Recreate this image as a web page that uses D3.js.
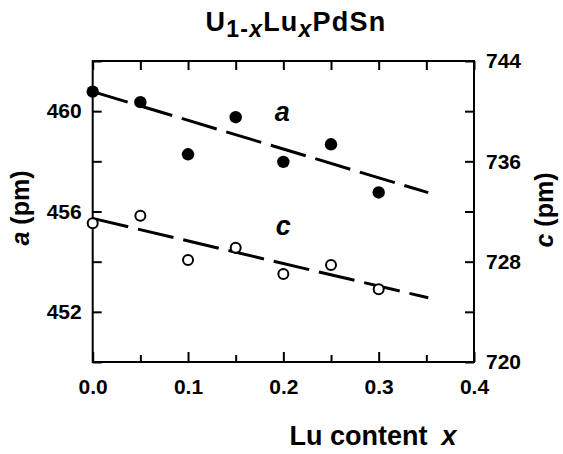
<!DOCTYPE html>
<html>
<head>
<meta charset="utf-8">
<script src="https://cdn.jsdelivr.net/npm/d3@7"></script>
<style>
  html, body { margin: 0; padding: 0; background: #fff; }
  svg { display: block; font-family: "Liberation Sans", Arial, Helvetica, sans-serif; font-weight: bold; }
</style>
</head>
<body>
<svg id="chart" width="563" height="454"></svg>
<script>
// ---- data ----
const xValues = [0.0, 0.05, 0.10, 0.15, 0.20, 0.25, 0.30];
const aValues = [460.78, 460.36, 458.28, 459.76, 457.98, 458.68, 456.76];
const cValues = [731.06, 731.67, 728.13, 729.11, 727.02, 727.74, 725.80];
const aFitX = [0.0, 0.352];
const aFitY = [460.78, 456.75];
const cFitX = [0.0, 0.352];
const cFitY = [731.45, 725.12];
const xTicks = [0, 0.05, 0.1, 0.15, 0.2, 0.25, 0.3, 0.35, 0.4];
const xTickLabels = [0, 0.1, 0.2, 0.3, 0.4];
const aTicks = [450, 452, 454, 456, 458, 460, 462];
const aTickLabels = [452, 456, 460];
const cTicks = [720, 724, 728, 732, 736, 740, 744];
const cTickLabels = [720, 728, 736, 744];

// ---- layout ----
const L = 92.7, R = 474, T = 61, B = 362;
const svg = d3.select("#chart");

const x = d3.scaleLinear().domain([0, 0.4]).range([L, R]);
const ya = d3.scaleLinear().domain([450, 462]).range([B, T]);
const yc = d3.scaleLinear().domain([720, 744]).range([B, T]);

const isLab = (arr) => (v) => arr.some(u => Math.abs(u - v) < 1e-9);

// frame
svg.append("rect").attr("x", L).attr("y", T).attr("width", R - L).attr("height", B - T)
  .attr("fill", "none").attr("stroke", "#000").attr("stroke-width", 2);

function styleAxis(g) {
  g.select(".domain").remove();
  g.selectAll(".tick line").attr("stroke", "#000").attr("stroke-width", 2);
  g.selectAll(".tick text").attr("fill", "#000").attr("font-size", 21).attr("font-weight", "bold")
    .attr("font-family", "'Liberation Sans', Arial, sans-serif");
}

// bottom axis
const xb = svg.append("g").attr("transform", `translate(0,${B})`)
  .call(d3.axisBottom(x).tickValues(xTicks).tickSize(-8).tickPadding(16.6)
    .tickFormat(v => isLab(xTickLabels)(v) ? d3.format(".1f")(v) : ""));
styleAxis(xb);
xb.selectAll(".tick line").attr("y2", d => isLab(xTickLabels)(d) ? -10 : -7);

// top axis
const xt = svg.append("g").attr("transform", `translate(0,${T})`)
  .call(d3.axisTop(x).tickValues(xTicks).tickSize(-9).tickFormat(""));
styleAxis(xt);

// left axis (a)
const yl = svg.append("g").attr("transform", `translate(${L},0)`)
  .call(d3.axisLeft(ya).tickValues(aTicks).tickSize(-9).tickPadding(11)
    .tickFormat(v => isLab(aTickLabels)(v) ? String(v) : ""));
styleAxis(yl);

// right axis (c)
const yr = svg.append("g").attr("transform", `translate(${R},0)`)
  .call(d3.axisRight(yc).tickValues(cTicks).tickSize(-9).tickPadding(12)
    .tickFormat(v => isLab(cTickLabels)(v) ? String(v) : ""));
styleAxis(yr);

// fit lines
const lineA = d3.line().x(d => x(d[0])).y(d => ya(d[1]));
const lineC = d3.line().x(d => x(d[0])).y(d => yc(d[1]));
svg.append("path").datum(d3.zip(aFitX, aFitY)).attr("d", lineA)
  .attr("fill", "none").attr("stroke", "#000").attr("stroke-width", 3).attr("stroke-dasharray", "36.5,10");
svg.append("path").datum(d3.zip(cFitX, cFitY)).attr("d", lineC)
  .attr("fill", "none").attr("stroke", "#000").attr("stroke-width", 3).attr("stroke-dasharray", "36.5,10");

// points
svg.append("g").selectAll("circle").data(d3.zip(xValues, aValues)).join("circle")
  .attr("cx", d => x(d[0])).attr("cy", d => ya(d[1])).attr("r", 6.2).attr("fill", "#000");
svg.append("g").selectAll("circle").data(d3.zip(xValues, cValues)).join("circle")
  .attr("cx", d => x(d[0])).attr("cy", d => yc(d[1])).attr("r", 5)
  .attr("fill", "#fff").attr("stroke", "#000").attr("stroke-width", 2);

// series labels
svg.append("text").attr("x", x(0.2) - 1).attr("y", ya(459.62)).attr("text-anchor", "middle")
  .attr("font-size", 27).attr("font-style", "italic").text("a");
svg.append("text").attr("x", x(0.2)).attr("y", yc(730.1)).attr("text-anchor", "middle")
  .attr("font-size", 27).attr("font-style", "italic").text("c");

// title
const title = svg.append("text").attr("x", 296).attr("y", 31).attr("text-anchor", "middle")
  .attr("font-size", 27).attr("letter-spacing", 1.2);
title.append("tspan").text("U");
title.append("tspan").attr("font-size", 23).attr("dy", 6).text("1-");
title.append("tspan").attr("font-size", 23).attr("font-style", "italic").text("x");
title.append("tspan").attr("dy", -6).text("Lu");
title.append("tspan").attr("font-size", 23).attr("font-style", "italic").attr("dy", 6).text("x");
title.append("tspan").attr("dy", -6).text("PdSn");

// axis titles
const xl = svg.append("text").attr("x", 373).attr("y", 445).attr("text-anchor", "middle").attr("font-size", 27);
xl.append("tspan").text("Lu content");
xl.append("tspan").attr("dx", 14).attr("font-style", "italic").text("x");

const al = svg.append("text").attr("transform", "translate(29,208) rotate(-90)").attr("text-anchor", "middle").attr("font-size", 25);
al.append("tspan").attr("font-style", "italic").text("a");
al.append("tspan").text(" (pm)");

const cl = svg.append("text").attr("transform", "translate(553,210) rotate(-90)").attr("text-anchor", "middle").attr("font-size", 25);
cl.append("tspan").attr("font-style", "italic").text("c");
cl.append("tspan").text(" (pm)");
</script>
</body>
</html>
